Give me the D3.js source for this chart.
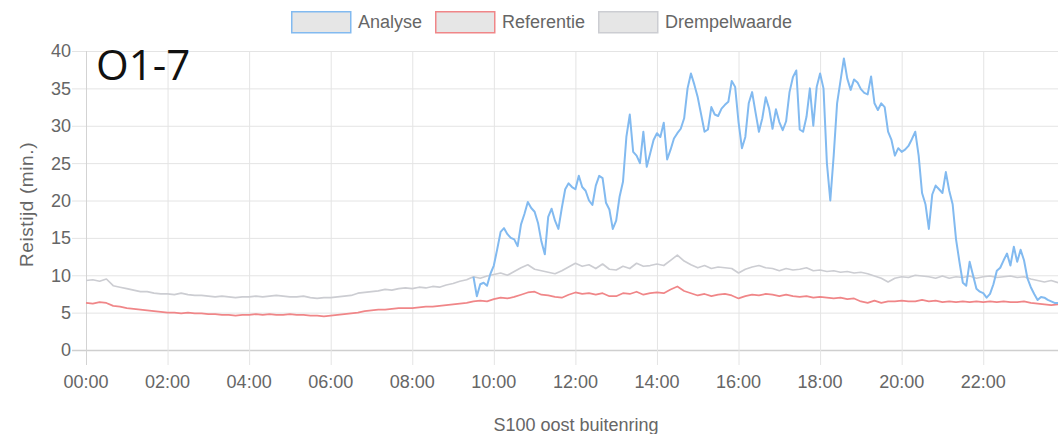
<!DOCTYPE html>
<html>
<head>
<meta charset="utf-8">
<script src="https://cdn.jsdelivr.net/npm/d3@7"></script>
<style>
  html, body { margin: 0; padding: 0; background: #fff; }
  svg { display: block; font-family: "Liberation Sans", Arial, sans-serif; }
</style>
</head>
<body>
<div id="chart"></div>
<script>
// tick labels
const timeTicks = ["00:00", "02:00", "04:00", "06:00", "08:00", "10:00", "12:00", "14:00", "16:00", "18:00", "20:00", "22:00"];
const yTicks = [0, 5, 10, 15, 20, 25, 30, 35, 40];
const seriesNames = ["Analyse", "Referentie", "Drempelwaarde"];

// Referentie, every 10 minutes from 00:00 to 23:50
const referentieStart = "00:00", referentieStep = 10;
const referentie = [
  6.3, 6.2, 6.4, 6.3, 5.9, 5.8,
  5.6, 5.5, 5.4, 5.3, 5.2, 5.1,
  5.0, 5.0, 4.9, 5.0, 4.9, 4.9,
  4.8, 4.8, 4.7, 4.7, 4.6, 4.7,
  4.7, 4.8, 4.7, 4.8, 4.7, 4.7,
  4.8, 4.7, 4.7, 4.6, 4.6, 4.5,
  4.6, 4.7, 4.8, 4.9, 5.0, 5.2,
  5.3, 5.4, 5.4, 5.5, 5.6, 5.6,
  5.6, 5.7, 5.8, 5.8, 5.9, 6.0,
  6.1, 6.2, 6.3, 6.5, 6.6, 6.5,
  6.8, 7.0, 6.9, 7.1, 7.4, 7.7,
  7.8, 7.4, 7.3, 7.1, 7.0, 7.4,
  7.7, 7.5, 7.6, 7.4, 7.6, 7.2,
  7.2, 7.6, 7.5, 7.8, 7.4, 7.6,
  7.7, 7.6, 8.1, 8.5, 7.9, 7.6,
  7.3, 7.5, 7.2, 7.4, 7.5, 7.3,
  6.9, 7.2, 7.4, 7.3, 7.5, 7.4,
  7.2, 7.4, 7.2, 7.1, 7.2, 7.0,
  7.1, 7.0, 6.9, 7.0, 6.8, 6.9,
  6.5, 6.3, 6.6, 6.3, 6.5, 6.5,
  6.6, 6.5, 6.5, 6.7, 6.5, 6.6,
  6.4, 6.5, 6.4, 6.5, 6.4, 6.5,
  6.4, 6.5, 6.4, 6.5, 6.4, 6.4,
  6.5, 6.3, 6.2, 6.1, 6.0, 6.1
];

// Drempelwaarde, every 10 minutes from 00:00 to 23:50
const drempelStart = "00:00", drempelStep = 10;
const drempelwaarde = [
  9.3, 9.4, 9.2, 9.5, 8.6, 8.4,
  8.2, 8.0, 7.8, 7.8, 7.6, 7.5,
  7.5, 7.4, 7.6, 7.4, 7.3, 7.3,
  7.2, 7.1, 7.2, 7.1, 7.0, 7.1,
  7.1, 7.2, 7.1, 7.2, 7.3, 7.2,
  7.1, 7.1, 7.2, 7.0, 6.9, 7.0,
  7.0, 7.1, 7.2, 7.3, 7.6, 7.7,
  7.8, 7.9, 8.1, 8.0, 8.2, 8.3,
  8.2, 8.4, 8.3, 8.5, 8.4, 8.7,
  8.9, 9.2, 9.4, 9.8, 9.6, 9.9,
  10.1, 10.3, 10.0, 10.5, 11.0, 11.4,
  10.8, 10.6, 10.4, 10.2, 10.6, 11.1,
  11.6, 11.2, 11.4, 10.9, 11.5, 10.8,
  10.7, 11.2, 10.9, 11.6, 11.2, 11.3,
  11.5, 11.3, 12.0, 12.7, 11.9, 11.4,
  11.0, 11.3, 10.9, 11.1, 11.0, 10.9,
  10.3, 10.8, 11.1, 11.3, 11.0, 10.9,
  10.6, 10.9, 10.7, 10.8, 11.0, 10.6,
  10.7, 10.5, 10.6, 10.4, 10.5, 10.3,
  10.4, 10.2, 9.9, 9.6, 9.1, 9.6,
  9.8, 9.7, 10.0, 9.9, 9.8, 9.6,
  9.9, 9.6, 9.8, 9.7, 9.9, 9.6,
  9.8, 9.9, 9.7, 9.8, 9.9, 9.7,
  9.8, 9.5, 9.3, 9.1, 9.3, 9.0
];

// Analyse, every 5 minutes from 09:30 to 23:50
const analyseStart = "09:30", analyseStep = 5;
const analyse = [
  9.8, 7.2, 8.8, 9.0, 8.6, 10.2,
  11.3, 13.5, 15.8, 16.3, 15.5, 15.0, 14.8, 13.9, 16.8, 18.2, 19.8, 19.0,
  18.5, 17.0, 14.5, 12.8, 17.8, 18.9, 17.3, 16.2, 19.0, 21.5, 22.3, 21.8,
  21.5, 23.3, 21.8, 21.3, 20.0, 19.4, 22.0, 23.3, 23.0, 19.7, 18.8, 16.2,
  17.3, 20.5, 22.5, 28.5, 31.5, 26.5, 26.0, 25.0, 29.2, 24.5, 26.3, 28.1,
  29.0, 28.5, 30.4, 25.5, 26.8, 28.3, 29.0, 29.6, 31.0, 35.0, 37.0, 35.5,
  33.8, 31.5, 29.2, 29.5, 32.5, 31.5, 31.3, 32.3, 32.8, 33.2, 36.0, 35.2,
  30.5, 27.0, 28.5, 33.0, 34.5, 31.8, 29.2, 31.0, 33.8, 32.3, 29.6, 32.2,
  30.5, 29.4, 30.6, 34.5, 36.5, 37.4, 29.5, 29.2, 31.2, 35.0, 30.0, 35.2,
  37.0, 35.0, 25.0, 20.0, 26.0, 33.0, 36.0, 39.0, 36.3, 34.8, 36.2, 35.8,
  34.9, 34.4, 34.2, 36.6, 33.0, 32.1, 33.0, 32.5, 29.2, 28.1, 26.0, 27.0,
  26.5, 26.8, 27.3, 28.2, 29.2, 26.0, 21.0, 19.5, 16.2, 20.8, 22.0, 21.5,
  21.0, 23.8, 21.3, 19.5, 14.8, 11.8, 9.0, 8.6, 11.8, 10.0, 8.2, 7.8,
  7.6, 7.0, 7.5, 8.8, 10.6, 11.0, 12.0, 12.9, 11.3, 13.8, 11.8, 13.4,
  12.0, 9.6, 8.4, 7.5, 6.7, 7.1, 7.0, 6.7, 6.5, 6.3, 6.3
];

const colors = {
  Analyse: "rgb(130,186,240)",
  Referentie: "rgb(240,134,136)",
  Drempelwaarde: "rgb(204,205,210)"
};

const width = 1058, height = 434;
const margin = { top: 51, right: 0, bottom: 84, left: 86 };

function toMinutes(hhmm) {
  const [h, m] = hhmm.split(":").map(Number);
  return h * 60 + m;
}

function toPoints(values, start, step) {
  const s = toMinutes(start);
  return values.map((v, i) => ({ t: s + i * step, v: v }));
}

const svg = d3.select("#chart").append("svg")
  .attr("width", width)
  .attr("height", height);

const x = d3.scaleLinear()
  .domain([0, toMinutes("23:50")])
  .range([margin.left, width - margin.right]);

const y = d3.scaleLinear()
  .domain([0, 40])
  .range([height - margin.bottom, margin.top]);

// grid (horizontal)
svg.append("g")
  .selectAll("line")
  .data(yTicks)
  .join("line")
  .attr("x1", margin.left - 14)
  .attr("x2", width)
  .attr("y1", d => y(d) + 0.5)
  .attr("y2", d => y(d) + 0.5)
  .attr("stroke", d => d === 0 ? "#cfcfcf" : "#e4e4e4")
  .attr("stroke-width", d => d === 0 ? 1.5 : 1);

// grid (vertical)
svg.append("g")
  .selectAll("line")
  .data(timeTicks)
  .join("line")
  .attr("x1", d => x(toMinutes(d)) + 0.5)
  .attr("x2", d => x(toMinutes(d)) + 0.5)
  .attr("y1", margin.top)
  .attr("y2", y(0) + 15)
  .attr("stroke", d => d === "00:00" ? "#d3d3d3" : "#e4e4e4");

// y tick labels
svg.append("g")
  .selectAll("text")
  .data(yTicks)
  .join("text")
  .attr("x", margin.left - 15)
  .attr("y", d => y(d))
  .attr("dy", "0.36em")
  .attr("text-anchor", "end")
  .attr("font-size", 18)
  .attr("fill", "#666")
  .text(d => d);

// x tick labels
svg.append("g")
  .selectAll("text")
  .data(timeTicks)
  .join("text")
  .attr("x", d => x(toMinutes(d)))
  .attr("y", y(0) + 38)
  .attr("text-anchor", "middle")
  .attr("font-size", 18)
  .attr("fill", "#666")
  .text(d => d);

// axis titles
svg.append("text")
  .attr("transform", `translate(33,${(y(0) + y(40)) / 2 + 4}) rotate(-90)`)
  .attr("text-anchor", "middle")
  .attr("font-size", 19)
  .attr("letter-spacing", 0.6)
  .attr("fill", "#666")
  .text("Reistijd (min.)");

svg.append("text")
  .attr("x", (margin.left + width) / 2 + 4)
  .attr("y", 431)
  .attr("text-anchor", "middle")
  .attr("font-size", 18)
  .attr("fill", "#666")
  .text("S100 oost buitenring");

// lines
const line = d3.line()
  .x(d => x(d.t))
  .y(d => y(d.v));

const plot = svg.append("g");
const series = [
  { name: "Drempelwaarde", pts: toPoints(drempelwaarde, drempelStart, drempelStep), w: 1.7 },
  { name: "Referentie", pts: toPoints(referentie, referentieStart, referentieStep), w: 1.7 },
  { name: "Analyse", pts: toPoints(analyse, analyseStart, analyseStep), w: 2 }
];
plot.selectAll("path")
  .data(series)
  .join("path")
  .attr("fill", "none")
  .attr("stroke", d => colors[d.name])
  .attr("stroke-width", d => d.w)
  .attr("stroke-linejoin", "round")
  .attr("d", d => line(d.pts));

// legend
const legendX = [291, 435, 598];
const legend = svg.append("g")
  .selectAll("g")
  .data(seriesNames)
  .join("g")
  .attr("transform", (d, i) => `translate(${legendX[i]},11)`);
legend.append("rect")
  .attr("x", 0.75)
  .attr("y", 0.75)
  .attr("width", 59)
  .attr("height", 21)
  .attr("fill", "#e6e6e6")
  .attr("stroke", d => colors[d])
  .attr("stroke-width", 1.5);
legend.append("text")
  .attr("x", 67)
  .attr("y", 11)
  .attr("dy", "0.36em")
  .attr("font-size", 18)
  .attr("fill", "#666")
  .text(d => d);

// big label in the corner
svg.append("text")
  .attr("x", 96)
  .attr("y", 80)
  .attr("font-family", "'Open Sans', sans-serif")
  .attr("font-size", 42)
  .attr("fill", "#111")
  .text("O1-7");
</script>
</body>
</html>
